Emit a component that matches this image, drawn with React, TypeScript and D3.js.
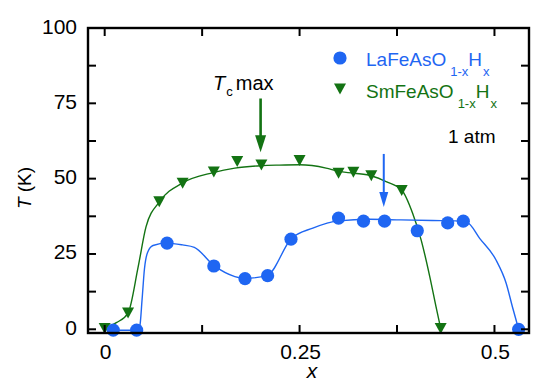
import React, { useEffect } from "react";
import * as d3 from "d3";

// ---- data ----
const laX = [0.011, 0.041, 0.080, 0.140, 0.180, 0.209, 0.239, 0.300, 0.332, 0.359, 0.401, 0.440, 0.460, 0.531];
const laT = [-0.3, -0.3, 28.6, 21.0, 16.8, 17.8, 29.9, 36.9, 35.9, 35.9, 32.7, 35.3, 35.9, 0];

const smX = [0.000, 0.030, 0.070, 0.100, 0.140, 0.170, 0.201, 0.250, 0.300, 0.319, 0.342, 0.381, 0.431];
const smT = [0.3, 5.4, 42.3, 48.5, 52.2, 55.7, 54.5, 56.0, 51.8, 52.1, 51.0, 46.1, 0.3];

// guide-to-the-eye curves (traced)
const laFitX = [0.011, 0.041, 0.045, 0.048, 0.051, 0.055, 0.062, 0.080, 0.100, 0.115, 0.140, 0.167, 0.180, 0.209, 0.239, 0.267, 0.300, 0.340, 0.380, 0.420, 0.450, 0.465, 0.481, 0.502, 0.515, 0.523, 0.531];
const laFitT = [-0.3, -0.3, 1, 10, 20, 25.5, 27.8, 28.6, 28.0, 27.2, 21.2, 17.5, 16.9, 18.0, 30.0, 33.6, 36.0, 36.5, 36.3, 36.1, 36.0, 35.5, 30.2, 23.0, 15.3, 7.5, 0];

const smFitX = [0.000, 0.015, 0.030, 0.043, 0.053, 0.0705, 0.100, 0.139, 0.167, 0.200, 0.224, 0.250, 0.284, 0.300, 0.320, 0.344, 0.361, 0.381, 0.395, 0.406, 0.417, 0.425, 0.431];
const smFitT = [0.3, 2.2, 5.4, 20.8, 34, 42.4, 48.6, 52.0, 53.5, 54.3, 54.5, 54.6, 53.5, 52.4, 51.8, 50.8, 49.0, 46.2, 38.5, 29.6, 17.5, 7.5, 0.3];

const xMajor = [0, 0.25, 0.5];
const xMajorLabels = ["0", "0.25", "0.5"];
const xAllTicks = [0, 0.125, 0.25, 0.375, 0.5];
const yMajor = [0, 25, 50, 75, 100];
const yMajorLabels = ["0", "25", "50", "75", "100"];
const yAllTicks = [0, 12.5, 25, 37.5, 50, 62.5, 75, 87.5, 100];

// arrows: [x, from T, to T]
const greenArrow = [0.2, 76.6, 58.8];
const blueArrow = [0.358, 58.2, 40.6];

const BLUE = "#1f66f2";
const GREEN = "#137313";
const FONT = "'Liberation Sans', Arial, Helvetica, sans-serif";

export default function App() {
  useEffect(() => {
    document.body.style.margin = "0";
  }, []);

  const W = 536, H = 382;
  const L = 88, R = 529, T = 28, B = 333;
  const x = d3.scaleLinear().domain([-0.0214, 0.5443]).range([L, R]);
  const y = d3.scaleLinear().domain([-1.23, 100]).range([B, T]);

  const line = d3
    .line<[number, number]>()
    .x((d) => x(d[0]))
    .y((d) => y(d[1]))
    .curve(d3.curveMonotoneX);

  const laFit = laFitX.map((v, i) => [v, laFitT[i]] as [number, number]);
  const smFit = smFitX.map((v, i) => [v, smFitT[i]] as [number, number]);

  const tri = (cx: number, cy: number, w: number, h: number) =>
    `M${cx - w / 2},${cy - h / 2}L${cx + w / 2},${cy - h / 2}L${cx},${cy + h / 2}Z`;

  const tickLen = 8;

  const arrow = (a: number[], color: string, sw: number, hw: number, hh: number) => {
    const ax = x(a[0]);
    const y0 = y(a[1]);
    const y1 = y(a[2]);
    return (
      <g>
        <line x1={ax} x2={ax} y1={y0} y2={y1 - hh + 2} stroke={color} strokeWidth={sw} />
        <path d={`M${ax - hw / 2},${y1 - hh}L${ax + hw / 2},${y1 - hh}L${ax},${y1}Z`} fill={color} />
      </g>
    );
  };

  return (
    <div style={{ position: "absolute", left: 0, top: 0 }}>
      <svg width={W} height={H} style={{ display: "block", background: "#fff" }} fontFamily={FONT}>
        <rect x={0} y={0} width={W} height={H} fill="#fff" />
        {/* fit curves */}
        <path d={line(smFit) || ""} fill="none" stroke={GREEN} strokeWidth={1.4} />
        <path d={line(laFit) || ""} fill="none" stroke={BLUE} strokeWidth={1.4} />

        {/* markers */}
        {smX.map((v, i) => (
          <path key={"s" + i} d={tri(x(v), y(smT[i]), 12, 11)} fill={GREEN} />
        ))}
        {laX.map((v, i) => (
          <circle key={"l" + i} cx={x(v)} cy={y(laT[i])} r={6.6} fill={BLUE} />
        ))}

        {/* arrows */}
        {arrow(greenArrow, GREEN, 2.6, 11, 17)}
        {arrow(blueArrow, BLUE, 2, 9, 15)}

        {/* frame */}
        <rect x={L} y={T} width={R - L} height={B - T} fill="none" stroke="#000" strokeWidth={2.4} />
        {xAllTicks.map((v) => (
          <g key={"xt" + v}>
            <line x1={x(v)} x2={x(v)} y1={B} y2={B - tickLen} stroke="#000" strokeWidth={2} />
            <line x1={x(v)} x2={x(v)} y1={T} y2={T + tickLen} stroke="#000" strokeWidth={2} />
          </g>
        ))}
        {yAllTicks.map((v) => (
          <g key={"yt" + v}>
            <line x1={L} x2={L + tickLen} y1={y(v)} y2={y(v)} stroke="#000" strokeWidth={2} />
            <line x1={R} x2={R - tickLen} y1={y(v)} y2={y(v)} stroke="#000" strokeWidth={2} />
          </g>
        ))}

        {/* tick labels */}
        {xMajor.map((v, i) => (
          <text key={"xl" + v} x={x(v) + 1} y={359} textAnchor="middle" fontSize={21} fill="#000">
            {xMajorLabels[i]}
          </text>
        ))}
        {yMajor.map((v, i) => (
          <text key={"yl" + v} x={77} y={y(v) - 2} textAnchor="end" dominantBaseline="central" fontSize={21} fill="#000">
            {yMajorLabels[i]}
          </text>
        ))}

        {/* axis titles */}
        <text x={312} y={378} textAnchor="middle" fontSize={21} fontStyle="italic" fill="#000">x</text>
        <text transform="translate(31,188) rotate(-90)" textAnchor="middle" fontSize={19} fill="#000">
          <tspan fontStyle="italic">T</tspan> (K)
        </text>

        {/* annotations */}
        <text x={213} y={90} fontSize={20} fill="#000">
          <tspan fontStyle="italic">T</tspan>
          <tspan fontSize={13} dy={6} dx={1}>c</tspan>
          <tspan dy={-6} dx={3}>max</tspan>
        </text>
        <text x={448} y={143} fontSize={19} fill="#000">1 atm</text>

        {/* legend */}
        <circle cx={340} cy={58} r={6.6} fill={BLUE} />
        <text x={366} y={66} fontSize={19} fill={BLUE}>
          LaFeAsO
          <tspan fontSize={13} dy={10} dx={4}>1-x</tspan>
          <tspan dy={-10} dx={0}>H</tspan>
          <tspan fontSize={13} dy={10} dx={1}>x</tspan>
        </text>
        <path d={tri(340, 89, 12, 11)} fill={GREEN} />
        <text x={366} y={98} fontSize={19} fill={GREEN}>
          SmFeAsO
          <tspan fontSize={13} dy={10} dx={4}>1-x</tspan>
          <tspan dy={-10} dx={0}>H</tspan>
          <tspan fontSize={13} dy={10} dx={1}>x</tspan>
        </text>
      </svg>
    </div>
  );
}
